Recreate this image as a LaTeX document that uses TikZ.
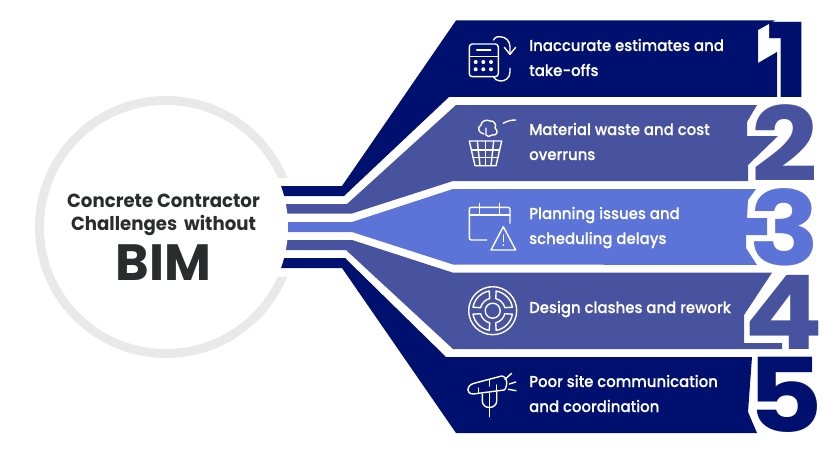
\documentclass[tikz,border=0pt]{standalone}
\usepackage{fontspec}
\setmainfont{Poppins}
\newfontfamily\labelfont{Poppins Medium}[FakeStretch=0.945,FakeBold=0.25]
\newfontfamily\titlefont{Poppins}[BoldFont={Poppins Bold},FakeStretch=0.955]
\newfontfamily\bimfont{Poppins}[BoldFont={Poppins Bold}]
\newfontfamily\digitfont{Poppins}[BoldFont={Poppins Bold},FakeStretch=1.13]
\definecolor{navy}{HTML}{00106F}
\definecolor{midblue}{HTML}{48539F}
\definecolor{lightblue}{HTML}{5C74D8}
\definecolor{ringgrey}{HTML}{E9E9E9}
\definecolor{inkdark}{HTML}{2B2C2E}
\tikzset{
  labeltext/.style={anchor=base west,inner sep=0pt,text=white,font=\labelfont\fontsize{15.8}{15.8}\selectfont},
  titletext/.style={anchor=base,inner sep=0pt,text=inkdark,font=\titlefont\bfseries\fontsize{19}{19}\selectfont},
  digittext/.style={anchor=base,inner sep=0pt,font=\digitfont\bfseries\fontsize{103}{103}\selectfont},
  iconline/.style={draw=white,line width=1.4pt,line cap=round,line join=round},
}
\begin{document}
\begin{tikzpicture}[x=1pt,y=-1pt]
\useasboundingbox (0,0) rectangle (825,452);
% ring
\draw[ringgrey,line width=10pt] (166,227) circle[radius=126];
\fill[white] (268,178) rectangle (302,277);
% bands
\fill[navy] (270,186) -- (342,186) -- (456,20.5) -- (775,20.5) -- (758,30) -- (758,63) -- (777,52) -- (777,97) -- (449,97) -- (344,196) -- (270,196) -- cycle;
\fill[midblue] (270,204) -- (347,204) -- (456,105) -- (757,105) -- (747,122) -- (747,136) -- (778,136) -- (748,165) -- (748,181) -- (453,181) -- (352,213.5) -- (270,213.5) -- cycle;
\fill[lightblue] (270,222) -- (352,222) -- (453,189) -- (756,189) -- (748,200) -- (747,218) -- (767,218) -- (767,235) -- (746,235) -- (746,248) -- (757,265) -- (453,264.5) -- (352,232) -- (270,232) -- cycle;
\fill[midblue] (270,240) -- (352,240) -- (453,272.7) -- (772,272.7) -- (744,315) -- (744,343) -- (782,343) -- (782,349) -- (453,349) -- (346,250) -- (270,250) -- cycle;
\fill[navy] (270,258) -- (345,258) -- (446,357) -- (752,357) -- (748,412) -- (757,433) -- (456,433) -- (342,268) -- (270,268) -- cycle;
\fill[white] (166,227) circle[radius=122];
% digits
\node[digittext,text=navy] (d1) at (788.5,97) {1};
\node[digittext,text=midblue] (d2) at (785,181) {2};
\node[digittext,text=lightblue] (d3) at (785,265) {3};
\node[digittext,text=midblue] (d4) at (783.5,349) {4};
\node[digittext,text=navy] (d5) at (785,432) {5};
% centre text
\node[titletext] (t1) at (163.5,207.7) {Concrete Contractor};
\node[titletext] (t2) at (163.5,230.7) {Challenges\, without};
\node[titletext,font=\bimfont\bfseries\fontsize{51}{51}\selectfont] (t3) at (163.5,280.7) {BIM};
% labels
\node[labeltext] (l1a) at (529,51) {Inaccurate estimates and};
\node[labeltext] (l1b) at (529,76) {take-offs};
\node[labeltext] (l2a) at (529,135) {Material waste and cost};
\node[labeltext] (l2b) at (529,160) {overruns};
\node[labeltext] (l3a) at (529,219) {Planning issues and};
\node[labeltext] (l3b) at (529,244) {scheduling delays};
\node[labeltext] (l4a) at (529,313) {Design clashes and rework};
\node[labeltext] (l5a) at (529,387) {Poor site communication};
\node[labeltext] (l5b) at (529,412) {and coordination};
% icon 1
\draw[iconline,rounded corners=3pt] (469.3,44) rectangle (498.3,76.7);
\draw[iconline] (476.7,50) -- (490.7,50);
\draw[iconline] (469.3,56.7) -- (498.3,56.7);
\foreach \px in {475.7,483.3,491} \foreach \py in {62,69.3} \fill[white] (\px,\py) circle[radius=2];
\draw[iconline] (493.3,40) .. controls (496,36.5) and (498,36.5) .. (500,36.7) .. controls (506,37) and (510,41) .. (510,47) -- (510,54);
\draw[iconline] (504.3,47.3) -- (510,54.3) -- (515.7,47.3);
\draw[iconline] (510,68.3) -- (510,72) .. controls (510,78) and (505,81.5) .. (500,81) .. controls (497,81) and (495,79) .. (493.3,76.7);
% icon 2
\draw[iconline] (484,134) .. controls (478,133) and (477,127) .. (481,125) .. controls (481,121) and (487,119) .. (490,121) .. controls (494,120) and (497,125) .. (495,128) .. controls (499,131) and (497,136) .. (492,135) .. controls (490,137) and (487,137) .. (486,135) -- (486,128);
\draw[iconline] (503.3,123.3) .. controls (507,121) and (511,120) .. (515.7,120);
\draw[iconline] (469.3,141) -- (501.7,141) -- (496,165.7) -- (475,165.7) -- cycle;
\draw[iconline] (471.3,150) -- (499.7,150);
\draw[iconline] (473,157.7) -- (498,157.7);
\draw[iconline] (477.3,141) -- (480,165.7);
\draw[iconline] (485.5,141) -- (485.5,165.7);
\draw[iconline] (493.7,141) -- (491,165.7);
% icon 3
\draw[iconline,rounded corners=2pt] (510,223.3) -- (510,207.3) -- (469.3,207.3) -- (469.3,240) -- (486.7,240);
\draw[iconline] (469.3,215) -- (510,215);
\draw[iconline] (479.3,203.3) -- (479.3,214);
\draw[iconline] (499.3,203.3) -- (499.3,214);
\draw[iconline] (503.3,226.7) -- (515.7,250) -- (491,250) -- cycle;
\draw[iconline] (503.3,235) -- (503.3,241.7);
\fill[white] (503.3,245) circle[radius=1];
% icon 4
\draw[iconline] (492.7,310.7) circle[radius=24];
\draw[iconline] (492.7,310.7) circle[radius=7.5];
\foreach \ang in {0,90,180,270}{
  \draw[iconline,shift={(492.7,310.7)},rotate=\ang]
    (14:12.5) arc[start angle=14,end angle=76,radius=12.5] -- (80:20) arc[start angle=80,end angle=10,radius=20] -- cycle;
}
% icon 5
\draw[iconline] (473.3,383.5) -- (501.7,376) .. controls (505,376) and (507,380) .. (506.7,383.3) .. controls (506.5,387) and (505,390) .. (504,390) -- (473.3,394) .. controls (466,394) and (466,386) .. (473.3,383.5);
\draw[iconline] (505,379.3) -- (511.7,373.3);
\draw[iconline] (509.3,384) -- (515.7,382);
\draw[iconline] (508.3,389.3) -- (516,390.7);
\draw[iconline] (489.3,379.5) -- (489.3,386);
\draw[iconline] (478.3,388) -- (478.3,393);
\draw[iconline] (496.7,385) -- (496.7,391);
\draw[iconline] (482.3,394.3) -- (482.3,401) .. controls (482.3,405) and (485.5,407.5) .. (489.3,407.5) .. controls (493,407.5) and (496.7,405) .. (496.7,401) -- (496.7,392.3);
\draw[iconline] (489.3,393.3) -- (489.3,416.7);
\end{tikzpicture}
\end{document}
